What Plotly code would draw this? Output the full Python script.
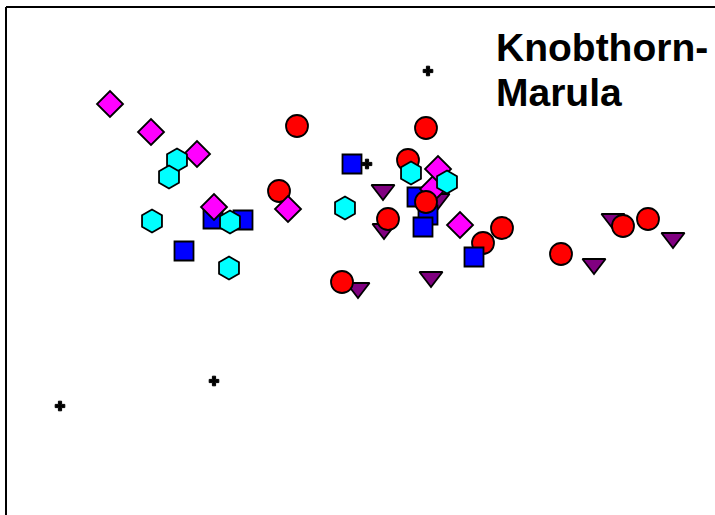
import plotly.graph_objects as go

# Ordination scores per group (axis 1 = x, axis 2 = y)
magenta_x = [-2.50, -2.09, -1.63, -1.46, -0.72, 0.78, 0.73, 1.00]
magenta_y = [1.86, 1.58, 1.36, 0.83, 0.81, 1.21, 1.01, 0.65]

cyan_x = [-1.83, -1.91, -2.08, -1.30, -1.31, -0.15, 0.51, 0.87]
cyan_y = [1.30, 1.13, 0.69, 0.68, 0.22, 0.82, 1.17, 1.08]

blue_x = [-0.08, -1.76, -1.47, -1.17, 0.57, 0.68, 0.63, 1.14]
blue_y = [1.26, 0.39, 0.71, 0.70, 0.93, 0.75, 0.63, 0.33]

red_x = [-0.63, 0.66, 0.48, -0.81, 0.66, 0.28, 1.23, 1.42, 2.01, 2.63, 2.88, -0.18]
red_y = [1.64, 1.62, 1.30, 0.99, 0.88, 0.71, 0.47, 0.62, 0.36, 0.64, 0.71, 0.08]

purple_x = [0.23, 0.24, 0.78, -0.02, 0.71, 2.34, 2.53, 3.13]
purple_y = [1.00, 0.61, 0.91, 0.02, 0.13, 0.26, 0.71, 0.52]

plus_x = [0.68, 0.07, -1.46, -3.00]
plus_y = [2.19, 1.26, -0.91, -1.16]

title_lines = ["Knobthorn-", "Marula"]

OUTLINE = dict(color="black", width=1.8)

STYLE = {
    "blue": ("square", 19, "#0000FF"),
    "purple": ("triangle-down", 20, "#800080"),
    "red": ("circle", 22, "#FF0000"),
    "magenta": ("diamond", 20, "#FF00FF"),
    "cyan": ("hexagon", 23, "#00FFFF"),
}
DATA = {
    "blue": (blue_x, blue_y),
    "purple": (purple_x, purple_y),
    "red": (red_x, red_y),
    "magenta": (magenta_x, magenta_y),
    "cyan": (cyan_x, cyan_y),
}

fig = go.Figure()


def add_points(group, idx):
    xs, ys = DATA[group]
    symbol, size, color = STYLE[group]
    fig.add_trace(go.Scatter(
        x=[xs[i] for i in idx], y=[ys[i] for i in idx],
        mode="markers", showlegend=False, hoverinfo="skip",
        marker=dict(symbol=symbol, size=size, color=color, line=OUTLINE),
    ))


def others(group, skip):
    return [i for i in range(len(DATA[group][0])) if i not in skip]


# drawing order (later points sit on top)
add_points("purple", others("purple", []))
add_points("blue", others("blue", [7]))
add_points("magenta", [6])
add_points("red", others("red", []))
add_points("magenta", others("magenta", [6]))
add_points("cyan", others("cyan", []))
add_points("blue", [7])

fig.add_trace(go.Scatter(
    x=plus_x, y=plus_y, mode="markers", showlegend=False, hoverinfo="skip",
    marker=dict(symbol="cross", size=8, color="black",
                line=dict(color="black", width=1)),
))

# frame: left and top edges of the plotting box
fig.add_shape(type="line", xref="paper", yref="paper",
              x0=6 / 715, x1=6 / 715, y0=-0.05, y1=1 - 7 / 515,
              line=dict(color="black", width=2))
fig.add_shape(type="line", xref="paper", yref="paper",
              x0=6 / 715, x1=1.05, y0=1 - 7 / 515, y1=1 - 7 / 515,
              line=dict(color="black", width=2))

title_font = dict(family="Liberation Sans, Arial, sans-serif", size=39, color="black")
fig.add_annotation(text=f"<b>{title_lines[0]}</b>", xref="paper", yref="paper",
                   x=494 / 715, y=1 - 47 / 515, xanchor="left", yanchor="middle",
                   showarrow=False, font=title_font)
fig.add_annotation(text=f"<b>{title_lines[1]}</b>", xref="paper", yref="paper",
                   x=494 / 715, y=1 - 93 / 515, xanchor="left", yanchor="middle",
                   showarrow=False, font=title_font)

fig.update_layout(
    width=715, height=515,
    margin=dict(l=0, r=0, t=0, b=0),
    paper_bgcolor="white", plot_bgcolor="white",
    xaxis=dict(range=[-3.60, 3.55], visible=False),
    yaxis=dict(range=[-2.25, 2.90], visible=False),
)

fig.write_html("out.html")
